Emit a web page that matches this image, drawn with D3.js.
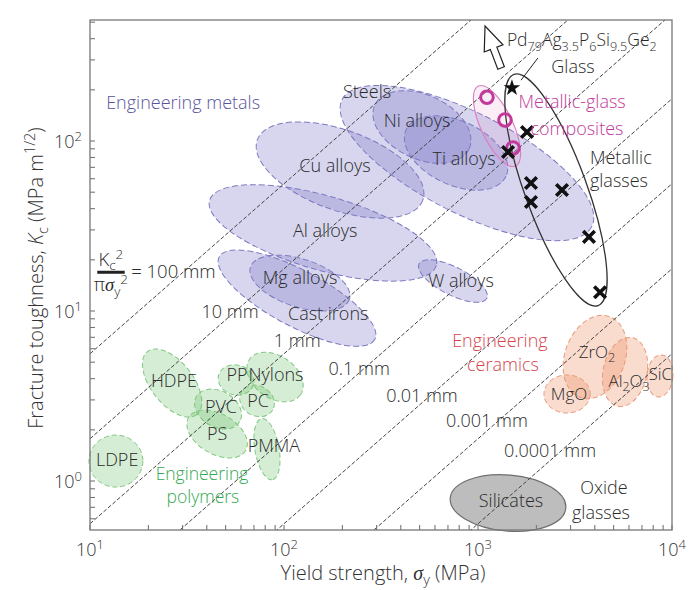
<!DOCTYPE html>
<html><head><meta charset="utf-8">
<script src="https://cdn.jsdelivr.net/npm/d3@7"></script>
<style>body{margin:0;background:#fff} text{font-family:"Open Sans",sans-serif;font-weight:300}</style>
</head><body><svg id="c" width="700" height="590"></svg>
<script>
// ---------- data ----------
const xDomain = [10, 10000];          // yield strength, MPa
const yDomain = [0.515, 515];         // fracture toughness, MPa m^1/2
const xTickValues = [10, 100, 1000, 10000];
const yTickValues = [1, 10, 100];
const ratioLinesMM = [100, 10, 1, 0.1, 0.01, 0.001, 0.0001]; // Kc^2/(pi sy^2) in mm

// property envelopes: centre (sigma, K), spread in decades (sx, sy), tilt (deg)
const metalNames  = ["Steels","Cu alloys","Al alloys","Cast irons","Mg alloys","W alloys","Ni alloys","Ti alloys"];
const metalSigma  = [877, 194.5, 158.8, 116.7, 120.8, 743, 514, 771];
const metalK      = [74.2, 67.5, 28.8, 11.9, 14.6, 15.0, 120.9, 85.0];
const metalSX     = [0.722, 0.454, 0.608, 0.454, 0.268, 0.196, 0.268, 0.284];
const metalSY     = [0.294, 0.235, 0.218, 0.165, 0.141, 0.082, 0.188, 0.188];
const metalTilt   = [27, 20, 16, 28, 18, 27, 25, 25];

const polyNames   = ["HDPE","PP","Nylons","PC","PVC","PS","PMMA","LDPE"];
const polySigma   = [26.5, 56.6, 89.9, 72.6, 45.7, 45.2, 81.7, 13.6];
const polyK       = [3.77, 3.93, 4.09, 2.96, 2.65, 1.89, 1.54, 1.31];
const polySX      = [0.206, 0.093, 0.160, 0.093, 0.129, 0.170, 0.160, 0.139];
const polySY      = [0.124, 0.088, 0.124, 0.088, 0.106, 0.118, 0.071, 0.153];
const polyTilt    = [52, 15, 35, 30, 30, 30, 80, 0];

const ceramNames  = ["ZrO2","Al2O3","SiC","MgO"];
const ceramSigma  = [4008, 5728, 8670, 2877];
const ceramK      = [5.36, 4.38, 4.15, 3.25];
const ceramSX     = [0.155, 0.113, 0.067, 0.119];
const ceramSY     = [0.253, 0.206, 0.124, 0.112];
const ceramTilt   = [20, 12, 5, 0];

const silicates   = {sigma: 1428, K: 0.742, sx: 0.299, sy: 0.165, tilt: 5};
const compositeEnv= {sigma: 1253, K: 122.5, sx: 0.227, sy: 0.094, tilt: 65};
const glassEnv    = {sigma: 2523, K: 51.5, sx: 0.634, sy: 0.182, tilt: 70};

const compositeSigma = [1112, 1377, 1514];
const compositeK     = [181, 133, 91];
const glassSigma     = [1789, 1428, 1875, 1875, 2710, 3733, 4256];
const glassK         = [113, 86.2, 56.6, 43.8, 51.5, 27.3, 12.9];
const pdGlass        = {sigma: 1496, K: 205};
const arrowTip       = {sigma: 1087, K: 475};
const arrowTail      = {sigma: 1315, K: 269};
const leaderFrom     = {sigma: 2037, K: 308};
const leaderTo       = {sigma: 1667, K: 228};

// ---------- setup ----------
const plot = {l: 90, r: 672, t: 20, b: 530};
const svg = d3.select("#c");
const x = d3.scaleLog().domain(xDomain).range([plot.l, plot.r]);
const y = d3.scaleLog().domain(yDomain).range([plot.b, plot.t]);

svg.append("defs").append("clipPath").attr("id","clip")
  .append("rect").attr("x",plot.l).attr("y",plot.t).attr("width",plot.r-plot.l).attr("height",plot.b-plot.t);

function rich(sel, parts, fs) {
  let shift = 0;
  parts.forEach(p => {
    const t = p[0], m = p[1] || 0;
    const target = m === 1 ? -fs*0.4 : (m === -1 ? fs*0.24 : 0);
    const ts = sel.append("tspan").attr("dy", target - shift).attr("font-size", m ? fs*0.72 : fs).text(t);
    if (p[2]) ts.attr("font-style","italic").attr("font-family", p[2] === "serif" ? "Liberation Serif" : null);
    shift = target;
  });
  return sel;
}

function envelope(g, s, k, sx, sy, tilt) {
  const cx = x(s), cy = y(k);
  const rx = x(s * Math.pow(10, sx)) - cx;
  const ry = cy - y(k * Math.pow(10, sy));
  return g.append("ellipse").attr("cx",cx).attr("cy",cy).attr("rx",rx).attr("ry",ry)
    .attr("transform",`rotate(${tilt},${cx},${cy})`);
}

// ---------- envelopes ----------
const gMet = svg.append("g").attr("fill","#7a76c8").attr("fill-opacity",0.3)
  .attr("stroke","#7e7ac0").attr("stroke-width",1).attr("stroke-dasharray","6,3");
metalNames.forEach((n,i)=>envelope(gMet, metalSigma[i], metalK[i], metalSX[i], metalSY[i], metalTilt[i]));

const gPol = svg.append("g").attr("fill","#5cb85c").attr("fill-opacity",0.26)
  .attr("stroke","#80c880").attr("stroke-width",1).attr("stroke-dasharray","5,3");
polyNames.forEach((n,i)=>envelope(gPol, polySigma[i], polyK[i], polySX[i], polySY[i], polyTilt[i]));

const gCer = svg.append("g").attr("fill","#ec8a5e").attr("fill-opacity",0.3)
  .attr("stroke","#e89a7a").attr("stroke-width",1).attr("stroke-dasharray","5,3");
ceramNames.forEach((n,i)=>envelope(gCer, ceramSigma[i], ceramK[i], ceramSX[i], ceramSY[i], ceramTilt[i]));

envelope(svg, silicates.sigma, silicates.K, silicates.sx, silicates.sy, silicates.tilt)
  .attr("fill","#bdbdbd").attr("stroke","#6e6e6e").attr("stroke-width",1.2);

envelope(svg, compositeEnv.sigma, compositeEnv.K, compositeEnv.sx, compositeEnv.sy, compositeEnv.tilt)
  .attr("fill","#e070c0").attr("fill-opacity",0.12).attr("stroke","#dc7cc0").attr("stroke-width",1.1);

// ---------- design lines ----------
const gLines = svg.append("g").attr("clip-path","url(#clip)");
ratioLinesMM.forEach(c => {
  const f = Math.sqrt(Math.PI * c / 1000);
  gLines.append("line")
    .attr("x1", x(xDomain[0])).attr("y1", y(f * xDomain[0]))
    .attr("x2", x(xDomain[1])).attr("y2", y(f * xDomain[1]))
    .attr("stroke","#444").attr("stroke-width",1).attr("stroke-dasharray","4,2");
});

envelope(svg, glassEnv.sigma, glassEnv.K, glassEnv.sx, glassEnv.sy, glassEnv.tilt)
  .attr("fill","none").attr("stroke","#333").attr("stroke-width",1.3);

// ---------- frame & axes ----------
svg.append("rect").attr("x",plot.l).attr("y",plot.t).attr("width",plot.r-plot.l).attr("height",plot.b-plot.t)
  .attr("fill","none").attr("stroke","#777").attr("stroke-width",1.3);

const minorX = [], minorY = [];
for (let e = 1; e < 4; e++) for (let m = 2; m <= 9; m++) minorX.push(m * Math.pow(10, e));
for (let e = -1; e < 3; e++) for (let m = 2; m <= 9; m++) {
  const v = m * Math.pow(10, e);
  if (v > yDomain[0] && v < yDomain[1]) minorY.push(v);
}
const gAx = svg.append("g").attr("stroke","#777").attr("stroke-width",1.1);
xTickValues.concat(minorX).forEach(v => gAx.append("line").attr("x1",x(v)).attr("x2",x(v)).attr("y1",plot.b).attr("y2",plot.b-5));
yTickValues.concat(minorY).forEach(v => gAx.append("line").attr("y1",y(v)).attr("y2",y(v)).attr("x1",plot.l).attr("x2",plot.l+5));

xTickValues.forEach(v => {
  const t = svg.append("text").attr("x", x(v)).attr("y", plot.b + 26).attr("text-anchor","middle").attr("fill","#333");
  rich(t, [["10"],[String(Math.round(Math.log10(v))),1]], 18);
});
yTickValues.forEach(v => {
  const t = svg.append("text").attr("x", plot.l - 8).attr("y", y(v) + 7).attr("text-anchor","end").attr("fill","#333");
  rich(t, [["10"],[String(Math.round(Math.log10(v))),1]], 18);
});

rich(svg.append("text").attr("x", 383).attr("y", 580).attr("text-anchor","middle").attr("fill","#333"),
  [["Yield strength, "],["σ",0,"serif"],["y",-1],[" (MPa)"]], 20);
rich(svg.append("text").attr("transform","translate(43,278) rotate(-90)").attr("text-anchor","middle").attr("fill","#333"),
  [["Fracture toughness, "],["K",0,"sans"],["c",-1],[" (MPa m"],["1/2",1],[")"]], 20);

// ---------- markers ----------
compositeSigma.forEach((s,i) => svg.append("circle").attr("cx",x(s)).attr("cy",y(compositeK[i])).attr("r",6.3)
  .attr("fill","none").attr("stroke","#c2399b").attr("stroke-width",3));
glassSigma.forEach((s,i) => {
  const cx = x(s), cy = y(glassK[i]), a = 5.8;
  svg.append("path").attr("d",`M${cx-a},${cy-a}L${cx+a},${cy+a}M${cx-a},${cy+a}L${cx+a},${cy-a}`)
    .attr("stroke","#111").attr("stroke-width",3.6).attr("stroke-linecap","butt");
});
svg.append("path").attr("d", d3.symbol(d3.symbolStar).size(85)())
  .attr("transform",`translate(${x(pdGlass.sigma)},${y(pdGlass.K)})`).attr("fill","#111");

// arrow
{
  const tx = x(arrowTip.sigma), ty = y(arrowTip.K), bx = x(arrowTail.sigma), by = y(arrowTail.K);
  const L = Math.hypot(bx-tx, by-ty), ux = (bx-tx)/L, uy = (by-ty)/L, nx = -uy, ny = ux;
  const Hh = 24, Ww = 10, w = 3.5;
  const pts = [[tx,ty],[tx+ux*Hh+nx*Ww, ty+uy*Hh+ny*Ww],[tx+ux*Hh+nx*w, ty+uy*Hh+ny*w],
    [bx+nx*w, by+ny*w],[bx-nx*w, by-ny*w],[tx+ux*Hh-nx*w, ty+uy*Hh-ny*w],[tx+ux*Hh-nx*Ww, ty+uy*Hh-ny*Ww]];
  svg.append("polygon").attr("points", pts.map(p=>p.join(",")).join(" "))
    .attr("fill","#fff").attr("stroke","#222").attr("stroke-width",1.2).attr("stroke-linejoin","miter");
}
svg.append("line").attr("x1",x(leaderFrom.sigma)).attr("y1",y(leaderFrom.K)).attr("x2",x(leaderTo.sigma)).attr("y2",y(leaderTo.K))
  .attr("stroke","#222").attr("stroke-width",1);

// ---------- labels (positions in data units) ----------
const FS = 18;
function label(s, k, parts, color, anchor, fs) {
  const t = svg.append("text").attr("x", x(s)).attr("y", y(k)).attr("text-anchor", anchor || "middle")
    .attr("fill", color || "#2a2a2a");
  return rich(t, typeof parts === "string" ? [[parts]] : parts, fs || FS);
}
const labelSigma = [268, 485, 847, 183, 163, 121, 169, 817];
const labelK     = [179, 121, 72.3, 65.7, 27.2, 14.4, 8.85, 13.8];
["Steels","Ni alloys","Ti alloys","Cu alloys","Al alloys","Mg alloys","Cast irons","W alloys"]
  .forEach((n,i)=>label(labelSigma[i], labelK[i], n));

label(3776, 73.2, "Metallic", null, "start");
label(3776, 53.6, "glasses", null, "start");
label(1409, 360, [["Pd"],["79",-1],["Ag"],["3.5",-1],["P"],["6",-1],["Si"],["9.5",-1],["Ge"],["2",-1]], null, "start", 17.5);
label(3090, 250, "Glass");

label(4102, 5.29, [["ZrO"],["2",-1]], null, "middle", 17);
label(6000, 3.57, [["Al"],["2",-1],["O"],["3",-1]], null, "middle", 17);
label(8700, 3.93, "SiC", null, "middle", 16.5);
label(2944, 3.00, "MgO", null, "middle", 17);

const lineLabelSigma = [52.7, 117, 244, 514, 1112, 2350];
const lineLabelK     = [9.09, 6.14, 4.20, 2.92, 2.08, 1.38];
["10 mm","1 mm","0.1 mm","0.01 mm","0.001 mm","0.0001 mm"].forEach((n,i)=>label(lineLabelSigma[i], lineLabelK[i], n));

label(1479, 0.703, "Silicates");
label(4457, 0.835, "Oxide");
label(4305, 0.600, "glasses");

const polyLabelSigma = [27.1, 57.3, 91.0, 73.5, 47.3, 45.2, 88.7, 13.8];
const polyLabelK     = [3.57, 3.87, 3.87, 2.72, 2.51, 1.74, 1.48, 1.22];
polyNames.forEach((n,i)=>label(polyLabelSigma[i], polyLabelK[i], n));

label(30.2, 154, "Engineering metals", "#5a549e");
label(3055, 156, "Metallic-glass", "#c2399b");
label(3236, 109, "composites", "#c2399b");
label(1297, 6.15, "Engineering", "#d6434c");
label(1345, 4.45, "ceramics", "#d6434c");
label(37.8, 1.02, "Engineering", "#36a852", "middle", 17.5);
label(38.2, 0.745, "polymers", "#36a852", "middle", 17.5);

// fraction Kc^2 / (pi sigma_y^2) = 100 mm
label(12.8, 18.4, [["K"],["c",-1],["2",1]], "#2a2a2a", "middle", 18.5);
svg.append("line").attr("x1",x(10.9)).attr("x2",x(15.1)).attr("y1",y(16.9)).attr("y2",y(16.9))
  .attr("stroke","#222").attr("stroke-width",3);
label(12.8, 13.1, [["π",0],["σ",0,"serif"],["y",-1],["2",1]], "#2a2a2a", "middle", 18.5);
label(16.3, 15.6, "= 100 mm", "#2a2a2a", "start", 18.5);
</script></body></html>
